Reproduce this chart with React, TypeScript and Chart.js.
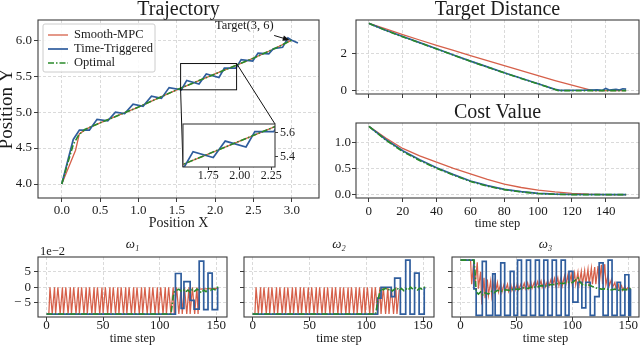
import React, { useEffect, useRef } from 'react';
import { Chart, registerables } from 'chart.js';

Chart.register(...registerables);

const FONT = "'Liberation Serif', 'Times New Roman', Times, serif";
Chart.defaults.font.family = FONT;

const RED = '#d6604a';
const BLUE = '#2f5d9d';
const GREEN = '#2a8a2a';
const GRID = '#d0d0d0';
const FRAME = '#3c3c3c';
const TEXT = '#1b1b1b';

const seriesNames = ['Smooth-MPC', 'Time-Triggered', 'Optimal'];

// ---------------- Trajectory ----------------
const trajRedX = [0, 0.1, 0.18, 0.23, 0.35, 0.5, 0.75, 1.0, 1.25, 1.5, 1.75, 2.0, 2.25, 2.5, 2.75, 3.0];
const trajRedY = [4.0, 4.26, 4.47, 4.7, 4.78, 4.85, 4.96, 5.07, 5.19, 5.31, 5.42, 5.53, 5.64, 5.75, 5.87, 6.0];
const trajOptX = [0, 0.08, 0.15, 0.22, 0.3, 0.5, 0.75, 1.0, 1.25, 1.5, 1.75, 2.0, 2.25, 2.5, 2.75, 3.0];
const trajOptY = [4.0, 4.3, 4.55, 4.68, 4.76, 4.85, 4.96, 5.07, 5.19, 5.31, 5.42, 5.53, 5.64, 5.75, 5.87, 6.0];
const trajBlueX = [0, 0.15, 0.23, 0.36, 0.46, 0.6, 0.7, 0.82, 0.93, 1.06, 1.17, 1.3, 1.4, 1.56, 1.63, 1.79, 1.885, 2.05, 2.12, 2.27, 2.34, 2.49, 2.56, 2.7, 2.76, 2.88, 2.95, 3.0, 3.08];
const trajBlueY = [4.0, 4.62, 4.75, 4.75, 4.9, 4.88, 5.0, 4.98, 5.11, 5.08, 5.22, 5.19, 5.34, 5.31, 5.44, 5.39, 5.53, 5.48, 5.61, 5.61, 5.73, 5.71, 5.82, 5.81, 5.88, 5.9, 6.03, 6.0, 5.96];
const trajXTicks = [0, 0.5, 1.0, 1.5, 2.0, 2.5, 3.0];
const trajYTicks = [4.0, 4.5, 5.0, 5.5, 6.0];
const trajXRange = [-0.31, 3.355];
const trajYRange = [3.806, 6.28];
const zoomXRange = [1.55, 2.28];
const zoomYRange = [5.31, 5.675];
const zoomXTicks = [1.75, 2.0, 2.25];
const zoomYTicks = [5.4, 5.6];
const targetLabel = 'Target(3, 6)';
const targetPoint = [3, 6];
const targetTextAt = [2.38, 6.2];
const arrowFrom = [2.77, 6.065];

// ---------------- Target distance / cost ----------------
const distRedT = [0, 10, 20, 30, 40, 50, 60, 70, 80, 90, 100, 110, 120, 130, 132, 152];
const distRedV = [3.6, 3.3, 3.0, 2.71, 2.42, 2.15, 1.88, 1.61, 1.34, 1.07, 0.8, 0.54, 0.29, 0.05, 0, 0];
const distOptT = [0, 10, 20, 30, 40, 50, 60, 70, 80, 90, 100, 110, 112, 152];
const distOptV = [3.6, 3.22, 2.88, 2.56, 2.23, 1.9, 1.57, 1.26, 0.95, 0.65, 0.36, 0.06, 0, 0];
const distBlueT = [0, 10, 20, 30, 40, 50, 60, 70, 80, 90, 100, 110, 113, 125, 135, 138, 140, 142, 146, 148, 150, 152];
const distBlueV = [3.6, 3.23, 2.9, 2.57, 2.24, 1.91, 1.58, 1.27, 0.96, 0.66, 0.37, 0.07, 0.01, 0.02, 0.04, 0.02, 0.12, 0.03, 0.07, 0.03, 0.1, 0.08];

const costRedT = [0, 10, 20, 30, 40, 50, 60, 70, 80, 90, 100, 110, 120, 130, 140, 152];
const costRedV = [1.3, 1.08, 0.88, 0.74, 0.62, 0.5, 0.395, 0.29, 0.2, 0.135, 0.085, 0.05, 0.025, 0.008, 0, 0];
const costOptT = [0, 10, 20, 30, 40, 50, 60, 70, 80, 90, 100, 110, 120, 152];
const costOptV = [1.3, 1.04, 0.82, 0.65, 0.5, 0.37, 0.25, 0.16, 0.095, 0.05, 0.02, 0.006, 0, 0];
const costBlueT = [0, 10, 20, 30, 40, 50, 60, 70, 80, 90, 100, 110, 120, 152];
const costBlueV = [1.3, 1.05, 0.835, 0.665, 0.51, 0.38, 0.26, 0.17, 0.1, 0.055, 0.025, 0.008, 0.002, 0];

const timeRange = [-7.6, 159.6];
const timeTicks = [0, 20, 40, 60, 80, 100, 120, 140];
const distYTicks = [0, 2];
const distYRange = [-0.18, 3.78];
const costYTicks = [0.0, 0.5, 1.0];
const costYRange = [-0.065, 1.365];

// ---------------- omega panels (units of 1e-2) ----------------
const wXTicks = [0, 50, 100, 150];
const wYTicks = [-5, 0, 5];
const wYRange = [-9.55, 9.7];
const wOffsetText = '1e\u22122';
const wTitles = ['\u03c9\u2081', '\u03c9\u2082', '\u03c9\u2083'];

const w1RedT = [0, 2,
  3, 5, 7, 8, 10, 12, 14, 15, 17, 19, 21, 22, 24, 26, 28, 29, 31, 33, 35, 36,
  38, 40, 42, 43, 45, 47, 49, 50, 52, 54, 56, 57, 59, 61, 63, 64, 66, 68, 70, 71,
  73, 75, 77, 78, 80, 82, 84, 85, 87, 89, 91, 92, 94, 96, 98, 99, 101, 103, 105, 106,
  108, 110, 112, 113, 115, 117, 119, 120, 122, 124, 126, 127, 129, 131, 133, 134,
  135, 152];
const w1RedV = [-8.6, -8.6,
  0, -8.6, 0, -8.6, 0, -8.6, 0, -8.6, 0, -8.6, 0, -8.6, 0, -8.6, 0, -8.6, 0, -8.6,
  0, -8.6, 0, -8.6, 0, -8.6, 0, -8.6, 0, -8.6, 0, -8.6, 0, -8.6, 0, -8.6, 0, -8.6,
  0, -8.6, 0, -8.6, 0, -8.6, 0, -8.6, 0, -8.6, 0, -8.6, 0, -8.6, 0, -8.6, 0, -8.6,
  0, -8.6, 0, -8.6, 0, -8.6, 0, -8.6, 0, -8.6, 0, -8.6, 0, -8.6, 0, -8.6, 0, -8.6,
  0, -8.6, 0, -8.6,
  -0.6, -0.4];
const w1BlueT = [0, 114, 119, 121.5, 127, 130.5, 135, 139, 142.8, 146.5, 151.3, 152];
const w1BlueV = [-8.6, 4.4, -6.8, 1.8, -4.2, -7, 8.4, -7.2, 4.5, -7.2, -0.3, -0.3];
const w1OptT = [0, 110, 111, 112, 113, 115, 117, 119, 121, 123, 125, 127, 129, 131, 133, 135, 137, 139, 141, 143, 145, 147, 149, 151, 152];
const w1OptV = [-8.6, -8.6, -6, -3, -1.5, -1, -0.6, -1.2, -0.8, -1.5, -0.9, -1.6, -0.7, -1.3, -0.6, -1.1, -1.8, -0.9, -1.4, -0.4, -1, -0.5, -0.8, 0, 0];

const w2RedT = [0, 2,
  3, 5, 7, 8, 10, 12, 14, 15, 17, 19, 21, 22, 24, 26, 28, 29, 31, 33, 35, 36,
  38, 40, 42, 43, 45, 47, 49, 50, 52, 54, 56, 57, 59, 61, 63, 64, 66, 68, 70, 71,
  73, 75, 77, 78, 80, 82, 84, 85, 87, 89, 91, 92, 94, 96, 98, 99, 101, 103, 105, 106,
  108, 110, 112, 113, 115, 117, 119, 120, 122, 124, 126, 127, 129, 131,
  132, 152];
const w2RedV = [-8.6, -8.6,
  0, -8.6, 0, -8.6, 0, -8.6, 0, -8.6, 0, -8.6, 0, -8.6, 0, -8.6, 0, -8.6, 0, -8.6,
  0, -8.6, 0, -8.6, 0, -8.6, 0, -8.6, 0, -8.6, 0, -8.6, 0, -8.6, 0, -8.6, 0, -8.6,
  0, -8.6, 0, -8.6, 0, -8.6, 0, -8.6, 0, -8.6, 0, -8.6, 0, -8.6, 0, -8.6, 0, -8.6,
  0, -8.6, 0, -8.6, 0, -8.6, 0, -8.6, 0, -8.6, 0, -8.6, 0, -8.6, 0, -8.6, 0, -8.6,
  -1, -0.5];
const w2BlueT = [0, 110, 113, 122, 125, 130, 134.7, 138.5, 142.5, 146.5, 151, 152];
const w2BlueV = [-8.6, -3.5, 0, -3, 2.9, -8.6, 8.7, -8.6, 4.5, -8.6, -0.3, -0.3];
const w2OptT = [0, 108, 109, 110, 111, 112, 113, 115, 117, 119, 121, 123, 125, 127, 129, 131, 133, 135, 137, 139, 141, 143, 145, 147, 149, 151, 152];
const w2OptV = [-8.6, -8.6, -7, -4.5, -3, -1.5, -0.5, -0.8, -0.3, -1, -0.5, -1.2, -0.6, -0.2, -1, -0.4, -1.1, -0.5, -0.9, 0, -0.6, -0.2, -0.9, -0.3, -0.6, 0, 0];

const w3RedT = [0, 9, 10, 12, 13, 15, 16, 18, 19, 21, 22, 24, 25, 27, 28, 30, 31, 33, 34, 36, 37, 39, 40,
  42, 43, 45, 46, 48, 49, 51, 52, 54, 55, 57, 58, 60, 61, 63, 64, 66, 67, 69, 70, 72, 73, 75, 76, 78, 79,
  81, 82, 84, 85, 87, 88, 90, 91, 93, 94, 96, 97, 99, 100, 102, 103, 105, 106, 108, 109, 111, 112, 114, 115,
  117, 118, 120, 121, 123, 124, 126, 127, 129, 130, 132, 133, 135, 136, 138, 139, 141, 142, 144, 145, 147, 148, 150, 152];
const w3RedV = [8.7, 8.7, 1, 8.7, 0.5, 8, -0.5, 5, -5.5, 3, -3.5, 2.5, -2.5, 2, -3, 1.5, -2, 1.5, -1.5, 1.2, -1.6, 1, -1.2,
  1, -1.3, 0.8, -1, 1, -0.8, 1.2, -0.8, 1, -0.6, 1.3, -0.5, 1.4, -0.4, 1.5, -0.3, 1.6, -0.2, 1.8, 0, 2, 0, 2, 0.2, 2.2, 0.3,
  2.5, 0.3, 2.8, 0.4, 3, 0.5, 3.3, 0.5, 3.6, 0.6, 3.9, 0.6, 4.2, 0.7, 4.5, 0.8, 4.8, 0.8, 5.1, 0.9, 5.4, 0.9, 5.8, 1,
  6.1, 1, 6.5, 1, 6.8, 1, 7.2, 1, 7.4, 0.8, 4, 0.5, 2.5, 0, 1.5, -0.5, 1, -0.8, 0.5, -1, 0.3, -0.8, 0, -0.5];
const w3BlueT = [0, 12, 14, 19.5, 23, 28.8, 31, 36, 39.5, 44.5, 47.8, 51, 54.5, 59, 62.6, 67, 70.5, 74.5, 78, 82, 85.7, 90, 93.7, 97, 100.5, 105, 108.5, 112, 116, 120, 124, 127.5, 132, 135.5, 140, 143, 147, 150.5, 152];
const w3BlueV = [8.7, -0.5, -9, 8.3, -9, 4.3, -9, 7.8, -9, 5.1, -9, 8.7, -9, 8.7, -9, 8.7, -9, 8.7, -9, 8.7, -9, 8.7, -9, 5.1, -4.8, 1.6, -6.6, 1.6, -9, -3, 7.8, -9, 8.7, -9, 1.6, -9, 4, -9, -0.5];
const w3OptT = [0, 12, 13, 14, 16, 18, 20, 22, 25, 28, 30, 33, 36, 40, 44, 48, 52, 56, 60, 64, 68, 72, 76, 80, 84, 88, 92, 96, 100, 103, 105, 107, 110, 114, 118, 122, 126, 130, 134, 138, 142, 146, 150, 152];
const w3OptV = [8.7, 8.7, 5, -1.5, -2.2, -1.5, -2.5, -1.8, -2.2, -1.3, -1.8, -1.0, -1.4, -0.8, -1.0, -0.5, -0.7, -0.2, -0.4, 0.1, 0, 0.5, 0.4, 0.8, 0.9, 1.3, 1.2, 1.6, 1.5, 2.4, 3, 1.6, 0.5, 0.8, 0.2, -0.3, -0.6, -0.5, -0.9, -0.6, -1.0, -0.7, -0.8, -0.3];

// ---------------- layout (page pixels) ----------------
const TRAJ_BOX = { left: 0, top: 0, width: 322, height: 232 };
const INSET_AREA = { left: 183, top: 124, right: 275, bottom: 167 };
const INSET_PAD = 2;
const INSET_Y_W = 32;
const INSET_X_H = 20;
const INSET_BOX = {
  left: INSET_AREA.left - INSET_PAD,
  top: INSET_AREA.top - INSET_PAD,
  width: INSET_AREA.right - INSET_AREA.left + INSET_PAD + INSET_Y_W,
  height: INSET_AREA.bottom - INSET_AREA.top + INSET_PAD + INSET_X_H,
};
const DIST_BOX = { left: 322, top: 0, width: 318, height: 100 };
const COST_BOX = { left: 322, top: 100, width: 318, height: 134 };
const W1_BOX = { left: 0, top: 234, width: 232, height: 111 };
const W2_BOX = { left: 232, top: 234, width: 207, height: 111 };
const W3_BOX = { left: 439, top: 234, width: 201, height: 111 };
const LEGEND = { dx: 5, dy: 4, w: 112, h: 48, row0: 11, gap: 14, line0: 5, line1: 25, text: 31 };

// ---------------- helpers ----------------
const pts = (xs: number[], ys: number[]) =>
  xs.slice(0, Math.min(xs.length, ys.length)).map((x, i) => ({ x, y: ys[i] }));

type AxisOpts = {
  pos: 'bottom' | 'left' | 'right';
  range: number[];
  ticks: number[];
  size: number;
  fmt?: (v: number) => string;
  labels?: boolean;
  fontSize?: number;
  pad?: number;
  tickLen?: number;
  grid?: boolean;
  title?: any;
};

function axis(o: AxisOpts) {
  const horizontal = o.pos === 'bottom';
  return {
    type: 'linear',
    position: o.pos,
    min: o.range[0],
    max: o.range[1],
    afterBuildTicks: (s: any) => {
      s.ticks = o.ticks.map((v) => ({ value: v }));
    },
    afterFit: (s: any) => {
      if (horizontal) s.height = o.size;
      else s.width = o.size;
      s.paddingLeft = 0;
      s.paddingRight = 0;
      s.paddingTop = 0;
      s.paddingBottom = 0;
    },
    ticks: {
      display: o.labels !== false,
      autoSkip: false,
      maxRotation: 0,
      minRotation: 0,
      padding: o.pad ?? 3,
      color: TEXT,
      font: { family: FONT, size: o.fontSize ?? 13, lineHeight: '10px' },
      callback: (v: any) => (o.fmt ? o.fmt(Number(v)) : String(v)),
    },
    grid: {
      display: true,
      drawOnChartArea: o.grid !== false,
      color: GRID,
      lineWidth: 0.8,
      drawTicks: true,
      tickLength: o.tickLen ?? 4,
      tickColor: FRAME,
      tickWidth: 1,
    },
    border: { display: false, dash: [3, 2] },
    title: o.title ?? { display: false },
  };
}

const scaleTitle = (text: string, size: number, lh: string, padding: any) => ({
  display: true,
  text,
  color: TEXT,
  font: { family: FONT, size, lineHeight: lh },
  padding,
});

const plotTitle = (text: string, size: number, lh: string, top: number, bottom: number, italic = false) => ({
  display: true,
  text,
  color: TEXT,
  fullSize: false,
  align: 'center',
  font: { family: FONT, size, lineHeight: lh, weight: 'normal', style: italic ? 'italic' : 'normal' },
  padding: { top, bottom },
});

function baseOptions(padding: any, title: any, scales: any) {
  return {
    responsive: false,
    maintainAspectRatio: false,
    animation: false,
    devicePixelRatio: 1,
    events: [],
    layout: { padding },
    elements: { point: { radius: 0, hoverRadius: 0 }, line: { tension: 0 } },
    plugins: {
      legend: { display: false },
      tooltip: { enabled: false },
      title: title ?? { display: false },
    },
    scales,
  };
}

const framePlugin = {
  id: 'frame',
  afterDraw(chart: any) {
    const { ctx, chartArea: a } = chart;
    ctx.save();
    ctx.strokeStyle = FRAME;
    ctx.lineWidth = 1.1;
    ctx.setLineDash([]);
    ctx.strokeRect(a.left, a.top, a.right - a.left, a.bottom - a.top);
    ctx.restore();
  },
};

const whiteAreaPlugin = {
  id: 'whiteArea',
  beforeDraw(chart: any) {
    const { ctx, chartArea: a } = chart;
    ctx.save();
    ctx.fillStyle = '#ffffff';
    ctx.fillRect(a.left, a.top, a.right - a.left, a.bottom - a.top);
    ctx.restore();
  },
};

const offsetTextPlugin = {
  id: 'offsetText',
  afterDraw(chart: any) {
    const { ctx, chartArea: a } = chart;
    ctx.save();
    ctx.font = `12.5px ${FONT}`;
    ctx.fillStyle = TEXT;
    ctx.textAlign = 'left';
    ctx.textBaseline = 'alphabetic';
    ctx.fillText(wOffsetText, a.left + 2, a.top - 2.5);
    ctx.restore();
  },
};

const trajDecorPlugin = {
  id: 'trajDecor',
  afterDraw(chart: any) {
    const { ctx, chartArea: a } = chart;
    const xs = chart.scales.x;
    const ys = chart.scales.y;
    ctx.save();
    // zoom rectangle
    const x0 = xs.getPixelForValue(zoomXRange[0]);
    const x1 = xs.getPixelForValue(zoomXRange[1]);
    const y0 = ys.getPixelForValue(zoomYRange[0]);
    const y1 = ys.getPixelForValue(zoomYRange[1]);
    ctx.strokeStyle = '#111111';
    ctx.lineWidth = 1;
    ctx.setLineDash([]);
    ctx.strokeRect(x0, y1, x1 - x0, y0 - y1);
    // connectors to the inset
    ctx.beginPath();
    ctx.moveTo(x1, y1);
    ctx.lineTo(INSET_AREA.right - TRAJ_BOX.left, INSET_AREA.top - TRAJ_BOX.top);
    ctx.moveTo(x0, y0);
    ctx.lineTo(INSET_AREA.left - TRAJ_BOX.left, INSET_AREA.bottom - TRAJ_BOX.top);
    ctx.stroke();
    // annotation
    ctx.fillStyle = TEXT;
    ctx.font = `12.5px ${FONT}`;
    ctx.textAlign = 'center';
    ctx.textBaseline = 'middle';
    ctx.fillText(targetLabel, xs.getPixelForValue(targetTextAt[0]), ys.getPixelForValue(targetTextAt[1]));
    const tx = xs.getPixelForValue(targetPoint[0]) - 2;
    const ty = ys.getPixelForValue(targetPoint[1]);
    const fx = xs.getPixelForValue(arrowFrom[0]);
    const fy = ys.getPixelForValue(arrowFrom[1]);
    const len = Math.hypot(tx - fx, ty - fy);
    const ux = (tx - fx) / len;
    const uy = (ty - fy) / len;
    ctx.strokeStyle = '#111111';
    ctx.lineWidth = 1;
    ctx.beginPath();
    ctx.moveTo(fx, fy);
    ctx.lineTo(tx - ux * 6, ty - uy * 6);
    ctx.stroke();
    ctx.fillStyle = '#111111';
    ctx.beginPath();
    ctx.moveTo(tx, ty);
    ctx.lineTo(tx - ux * 7 - uy * 2.8, ty - uy * 7 + ux * 2.8);
    ctx.lineTo(tx - ux * 7 + uy * 2.8, ty - uy * 7 - ux * 2.8);
    ctx.closePath();
    ctx.fill();
    // legend
    const bx = a.left + LEGEND.dx;
    const by = a.top + LEGEND.dy;
    ctx.fillStyle = 'rgba(255,255,255,0.85)';
    ctx.strokeStyle = '#cccccc';
    ctx.lineWidth = 1;
    ctx.beginPath();
    if ((ctx as any).roundRect) (ctx as any).roundRect(bx, by, LEGEND.w, LEGEND.h, 2);
    else ctx.rect(bx, by, LEGEND.w, LEGEND.h);
    ctx.fill();
    ctx.stroke();
    chart.data.datasets.forEach((ds: any, i: number) => {
      const yy = by + LEGEND.row0 + i * LEGEND.gap;
      ctx.strokeStyle = ds.borderColor;
      ctx.lineWidth = ds.borderWidth;
      ctx.setLineDash(ds.borderDash || []);
      ctx.beginPath();
      ctx.moveTo(bx + LEGEND.line0, yy);
      ctx.lineTo(bx + LEGEND.line1, yy);
      ctx.stroke();
      ctx.setLineDash([]);
      ctx.fillStyle = TEXT;
      ctx.font = `12.5px ${FONT}`;
      ctx.textAlign = 'left';
      ctx.textBaseline = 'middle';
      ctx.fillText(ds.label, bx + LEGEND.text, yy);
    });
    ctx.restore();
  },
};

const DASHDOT = [6, 2, 1.5, 2];

function threeSeries(red: any[], blue: any[], green: any[], opts: { redW?: number; blueStepped?: boolean } = {}) {
  return [
    { label: seriesNames[0], data: red, borderColor: RED, borderWidth: opts.redW ?? 1.3, order: 3 },
    { label: seriesNames[1], data: blue, borderColor: BLUE, borderWidth: 1.7, order: 2, stepped: opts.blueStepped ? 'before' : false },
    { label: seriesNames[2], data: green, borderColor: GREEN, borderWidth: 1.6, borderDash: DASHDOT, order: 1 },
  ];
}

// ---------------- chart configs ----------------
function trajConfig() {
  return {
    type: 'line',
    data: { datasets: threeSeries(pts(trajRedX, trajRedY), pts(trajBlueX, trajBlueY), pts(trajOptX, trajOptY)) },
    options: baseOptions(
      { left: 0, right: 3, top: 0, bottom: 0 },
      plotTitle('Trajectory', 20, '19px', 0, 1),
      {
        x: axis({
          pos: 'bottom', range: trajXRange, ticks: trajXTicks, size: 34, pad: 3.5,
          fmt: (v) => v.toFixed(1),
          title: scaleTitle('Position X', 14, '14px', { top: 0, bottom: 2 }),
        }),
        y: axis({
          pos: 'left', range: trajYRange, ticks: trajYTicks, size: 38, pad: 2,
          fmt: (v) => v.toFixed(1),
          title: scaleTitle('Position Y', 19, '15px', { top: 0, bottom: 0 }),
        }),
      }
    ),
    plugins: [framePlugin, trajDecorPlugin],
  };
}

function insetConfig() {
  return {
    type: 'line',
    data: { datasets: threeSeries(pts(trajRedX, trajRedY), pts(trajBlueX, trajBlueY), pts(trajOptX, trajOptY)) },
    options: baseOptions(
      { left: INSET_PAD, right: 0, top: INSET_PAD, bottom: 0 },
      null,
      {
        x: axis({ pos: 'bottom', range: zoomXRange, ticks: zoomXTicks, size: INSET_X_H, fontSize: 12, pad: 1, tickLen: 3, grid: false, fmt: (v) => v.toFixed(2) }),
        y: axis({ pos: 'right', range: zoomYRange, ticks: zoomYTicks, size: INSET_Y_W, fontSize: 12, pad: 2, tickLen: 3, grid: false, fmt: (v) => v.toFixed(1) }),
      }
    ),
    plugins: [whiteAreaPlugin, framePlugin],
  };
}

function distConfig() {
  return {
    type: 'line',
    data: { datasets: threeSeries(pts(distRedT, distRedV), pts(distBlueT, distBlueV), pts(distOptT, distOptV)) },
    options: baseOptions(
      { left: 0, right: 1, top: 0, bottom: 0 },
      plotTitle('Target Distance', 20, '19px', 0, 1),
      {
        x: axis({ pos: 'bottom', range: timeRange, ticks: timeTicks, size: 6, labels: false }),
        y: axis({ pos: 'left', range: distYRange, ticks: distYTicks, size: 34, pad: 5, fmt: (v) => String(v) }),
      }
    ),
    plugins: [framePlugin],
  };
}

function costConfig() {
  return {
    type: 'line',
    data: { datasets: threeSeries(pts(costRedT, costRedV), pts(costBlueT, costBlueV), pts(costOptT, costOptV)) },
    options: baseOptions(
      { left: 0, right: 1, top: 0, bottom: 0 },
      plotTitle('Cost Value', 20, '20px', 3, 0),
      {
        x: axis({
          pos: 'bottom', range: timeRange, ticks: timeTicks, size: 36, pad: 5, fmt: (v) => String(v),
          title: scaleTitle('time step', 12.5, '14px', { top: 0, bottom: 3 }),
        }),
        y: axis({ pos: 'left', range: costYRange, ticks: costYTicks, size: 34, pad: 1, fmt: (v) => v.toFixed(1) }),
      }
    ),
    plugins: [framePlugin],
  };
}

function omegaConfig(idx: number, red: any[], blue: any[], green: any[], ySize: number, yLabels: boolean, padRight: number) {
  return {
    type: 'line',
    data: { datasets: threeSeries(red, blue, green, { redW: 1.25, blueStepped: true }) },
    options: baseOptions(
      { left: 0, right: padRight, top: 0, bottom: 0 },
      plotTitle(wTitles[idx], 13, '20px', 1, 2, true),
      {
        x: axis({
          pos: 'bottom', range: timeRange, ticks: wXTicks, size: 28, pad: 0, fmt: (v) => String(v),
          title: scaleTitle('time step', 12.5, '12px', { top: 0, bottom: 0 }),
        }),
        y: axis({
          pos: 'left', range: wYRange, ticks: wYTicks, size: ySize, pad: 3, labels: yLabels,
          fmt: (v) => (v < 0 ? '\u2212 ' + Math.abs(v) : String(v)),
        }),
      }
    ),
    plugins: yLabels ? [framePlugin, offsetTextPlugin] : [framePlugin],
  };
}

// ---------------- components ----------------
type Box = { left: number; top: number; width: number; height: number };

function ChartBox({ box, make }: { box: Box; make: () => any }) {
  const ref = useRef<HTMLCanvasElement | null>(null);
  useEffect(() => {
    if (!ref.current) return;
    const chart = new Chart(ref.current, make());
    return () => chart.destroy();
  }, []);
  return (
    <div style={{ position: 'absolute', left: box.left, top: box.top, width: box.width, height: box.height }}>
      <canvas ref={ref} width={box.width} height={box.height} style={{ display: 'block', width: box.width, height: box.height }} />
    </div>
  );
}

export default function App() {
  return (
    <div style={{ position: 'absolute', left: 0, top: 0, width: 640, height: 345, background: '#ffffff', overflow: 'hidden' }}>
      <ChartBox box={TRAJ_BOX} make={trajConfig} />
      <ChartBox box={INSET_BOX} make={insetConfig} />
      <ChartBox box={DIST_BOX} make={distConfig} />
      <ChartBox box={COST_BOX} make={costConfig} />
      <ChartBox box={W1_BOX} make={() => omegaConfig(0, pts(w1RedT, w1RedV), pts(w1BlueT, w1BlueV), pts(w1OptT, w1OptV), 38, true, 5)} />
      <ChartBox box={W2_BOX} make={() => omegaConfig(1, pts(w2RedT, w2RedV), pts(w2BlueT, w2BlueV), pts(w2OptT, w2OptV), 12, false, 5)} />
      <ChartBox box={W3_BOX} make={() => omegaConfig(2, pts(w3RedT, w3RedV), pts(w3BlueT, w3BlueV), pts(w3OptT, w3OptV), 13, false, 1)} />
    </div>
  );
}
